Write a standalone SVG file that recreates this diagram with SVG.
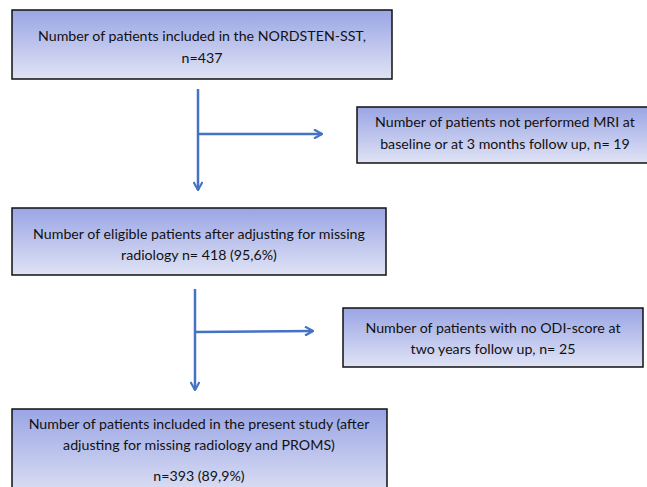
<svg xmlns="http://www.w3.org/2000/svg" width="647" height="487" viewBox="0 0 647 487">
<defs>
<linearGradient id="g" x1="0" y1="0" x2="0" y2="1">
<stop offset="0" stop-color="#9aa5e4"/>
<stop offset="1" stop-color="#e0e3f5"/>
</linearGradient>
<marker id="ah" viewBox="0 0 10 10" refX="9" refY="5" markerWidth="10" markerHeight="10" markerUnits="userSpaceOnUse" orient="auto">
<path d="M1,0.5 L9,5 L1,9.5" fill="none" stroke="#4472c4" stroke-width="2.2"/>
</marker>
<style>
.box{fill:url(#g);stroke:#111;stroke-width:1.5}
.t{font-family:Lato,"Liberation Sans",sans-serif;font-size:14.2px;fill:#111;text-anchor:middle}
.c{fill:none;stroke:#4472c4;stroke-width:2.5}
</style>
</defs>
<rect width="647" height="487" fill="#fff"/>
<g id="n1">
<rect class="box" x="12" y="10" width="380" height="69"/>
<text class="t" x="202" y="41">Number of patients included in the NORDSTEN-SST,</text>
<text class="t" x="202" y="63">n=437</text>
</g>
<g id="n2">
<rect class="box" x="357" y="107" width="295" height="56"/>
<text class="t" x="505" y="127">Number of patients not performed MRI at</text>
<text class="t" x="505" y="149">baseline or at 3 months follow up, n= 19</text>
</g>
<g id="n3">
<rect class="box" x="12" y="208" width="374" height="67"/>
<text class="t" x="199" y="239">Number of eligible patients after adjusting for missing</text>
<text class="t" x="199" y="260">radiology n= 418 (95,6%)</text>
</g>
<g id="n4">
<rect class="box" x="343" y="308" width="300" height="59"/>
<text class="t" x="493" y="333">Number of patients with no ODI-score at</text>
<text class="t" x="493" y="354">two years follow up, n= 25</text>
</g>
<g id="n5">
<rect class="box" x="12" y="409" width="375" height="90"/>
<text class="t" x="199" y="429">Number of patients included in the present study (after</text>
<text class="t" x="199" y="450">adjusting for missing radiology and PROMS)</text>
<text class="t" x="199" y="481">n=393 (89,9%)</text>
</g>
<g id="connectors">
<line class="c" x1="198" y1="89" x2="198" y2="190" marker-end="url(#ah)"/>
<line class="c" x1="198" y1="134" x2="322" y2="134" marker-end="url(#ah)"/>
<line class="c" x1="195" y1="289" x2="195" y2="390" marker-end="url(#ah)"/>
<line class="c" x1="195" y1="332" x2="313" y2="331" marker-end="url(#ah)"/>
</g>
</svg>
